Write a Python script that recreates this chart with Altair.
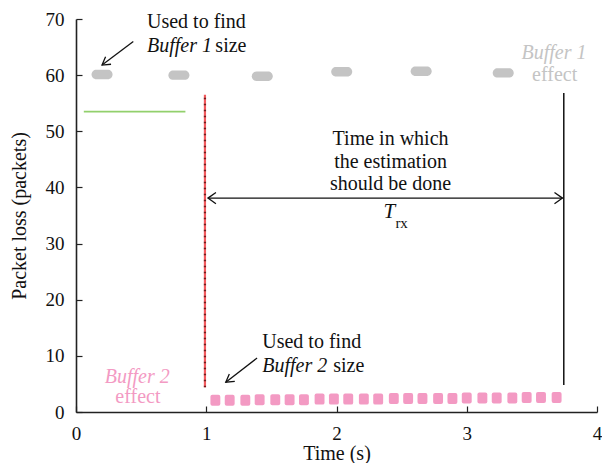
import altair as alt
import pandas as pd

SERIF = "'Liberation Serif', 'Times New Roman', serif"

# ---- data ----
buf1_t = [0.20, 0.79, 1.43, 2.04, 2.65, 3.28]
buf1_loss = [60.1, 60.0, 59.8, 60.6, 60.7, 60.4]

buf2_t = [1.07, 1.18, 1.30, 1.41, 1.53, 1.64, 1.75, 1.87, 1.98, 2.09, 2.21, 2.32,
          2.44, 2.55, 2.66, 2.78, 2.89, 3.00, 3.12, 3.23, 3.35, 3.46, 3.57, 3.69]
buf2_loss = [2.1, 2.1, 2.1, 2.2, 2.2, 2.2, 2.2, 2.3, 2.3, 2.3, 2.3, 2.3,
             2.4, 2.4, 2.4, 2.4, 2.4, 2.5, 2.5, 2.5, 2.5, 2.6, 2.6, 2.6]

x_ticks = [0, 1, 2, 3, 4]
y_ticks = [0, 10, 20, 30, 40, 50, 60, 70]

# reference lines
green_x = [0.06, 0.84]
green_y = [53.5]
red_x = [0.99]
red_y = [4.4, 56.5]
black_x = [3.745]
black_y = [4.8, 56.8]
span_x = [1.013, 3.735]
span_y = [38.1]

# diagonal arrows: tail -> tip
arrow_x1 = [0.44, 1.39]
arrow_y1 = [66.0, 9.6]
arrow_x2 = [0.20, 1.15]
arrow_y2 = [61.8, 5.3]

# text annotations
note_text = ["Used to find", "Used to find"]
note_x = [0.545, 1.43]
note_y = [69.5, 12.5]
note_it_text = ["Buffer 1", "Buffer 2"]
note_it_y = [65.2, 8.2]
note_size_x = [1.07, 1.975]

trx_lines = ["Time in which", "the estimation", "should be done"]
trx_x = [2.415, 2.415, 2.415]
trx_y = [48.7, 44.6, 40.6]

xs = alt.Scale(domain=[0, 4], nice=False, zero=False)
ys = alt.Scale(domain=[0, 70], nice=False, zero=False)

x_axis = alt.Axis(title="Time (s)", values=x_ticks, format="d", grid=False, labelFlush=False,
                  tickSize={"expr": "-6"}, labelPadding=18, titlePadding=0)
y_axis = alt.Axis(title="Packet loss (packets)", values=y_ticks, format="d", grid=False, labelFlush=False,
                  tickSize={"expr": "-6"}, labelPadding=18, titlePadding=16)


def X(field="x"):
    return alt.X(field, type="quantitative", scale=xs, axis=x_axis)


def Y(field="y"):
    return alt.Y(field, type="quantitative", scale=ys, axis=y_axis)


RR_DASH = "M -0.55 -0.45 L 0.55 -0.45 A 0.45 0.45 0 0 1 0.55 0.45 L -0.55 0.45 A 0.45 0.45 0 0 1 -0.55 -0.45 Z"
RR_SQ = "M -0.55 -1 L 0.55 -1 Q 0.9 -1 0.9 -0.65 L 0.9 0.65 Q 0.9 1 0.55 1 L -0.55 1 Q -0.9 1 -0.9 0.65 L -0.9 -0.65 Q -0.9 -1 -0.55 -1 Z"

buf1 = alt.Chart(pd.DataFrame({"x": buf1_t, "y": buf1_loss})).mark_point(
    shape=RR_DASH, filled=True, size=441, color="#c4c4c4", opacity=1, strokeWidth=0
).encode(x=X(), y=Y())

buf2 = alt.Chart(pd.DataFrame({"x": buf2_t, "y": buf2_loss})).mark_point(
    shape=RR_SQ, filled=True, size=121, color="#f39ac3", opacity=1, strokeWidth=0
).encode(x=X(), y=Y())

green = alt.Chart(pd.DataFrame({"x": [green_x[0]], "x2": [green_x[1]], "y": green_y})).mark_rule(
    color="#92d06c", strokeWidth=1.6
).encode(x=X(), x2="x2", y=Y())

red_df = pd.DataFrame({"x": red_x, "y": [red_y[0]], "y2": [red_y[1]]})
red = alt.Chart(red_df).mark_rule(color="#f25a5e", strokeWidth=2.2).encode(x=X(), y=Y(), y2="y2")
red_dash = alt.Chart(red_df).mark_rule(color="#5a1414", strokeWidth=2.2, strokeDash=[1.5, 4.5], opacity=0.85).encode(
    x=X(), y=Y(), y2="y2")

black = alt.Chart(pd.DataFrame({"x": black_x, "y": [black_y[0]], "y2": [black_y[1]]})).mark_rule(
    color="#111111", strokeWidth=1.5
).encode(x=X(), y=Y(), y2="y2")

span = alt.Chart(pd.DataFrame({"x": [span_x[0]], "x2": [span_x[1]], "y": span_y})).mark_rule(
    color="#111111", strokeWidth=1.3
).encode(x=X(), x2="x2", y=Y())

span_left = alt.Chart(pd.DataFrame({"x": [span_x[0]], "y": span_y})).mark_point(
    shape="M 1 -0.7 L 0 0 L 1 0.7", filled=False, size=256, color="#111111", strokeWidth=1.3, opacity=1
).encode(x=X(), y=Y())
span_right = alt.Chart(pd.DataFrame({"x": [span_x[1]], "y": span_y})).mark_point(
    shape="M -1 -0.7 L 0 0 L -1 0.7", filled=False, size=256, color="#111111", strokeWidth=1.3, opacity=1
).encode(x=X(), y=Y())

arrows = alt.Chart(pd.DataFrame({"x": arrow_x1, "y": arrow_y1, "x2": arrow_x2, "y2": arrow_y2})).mark_rule(
    color="#111111", strokeWidth=1.3
).encode(x=X(), y=Y(), x2="x2", y2="y2")
arrow_heads = alt.Chart(pd.DataFrame({"x": arrow_x2, "y": arrow_y2})).mark_point(
    shape="M -1 -0.6 L 0 0 L -1 0.6", filled=False, size=240, angle=144, color="#111111",
    strokeWidth=1.3, opacity=1
).encode(x=X(), y=Y())

notes = alt.Chart(pd.DataFrame({"x": note_x, "y": note_y, "t": note_text})).mark_text(
    font=SERIF, fontSize=20, align="left", baseline="middle", color="#111111"
).encode(x=X(), y=Y(), text="t:N")
notes_it = alt.Chart(pd.DataFrame({"x": note_x, "y": note_it_y, "t": note_it_text})).mark_text(
    font=SERIF, fontSize=20, fontStyle="italic", align="left", baseline="middle", color="#111111"
).encode(x=X(), y=Y(), text="t:N")
notes_size = alt.Chart(pd.DataFrame({"x": note_size_x, "y": note_it_y, "t": ["size", "size"]})).mark_text(
    font=SERIF, fontSize=20, align="left", baseline="middle", color="#111111"
).encode(x=X(), y=Y(), text="t:N")

trx_text = alt.Chart(pd.DataFrame({"x": trx_x, "y": trx_y, "t": trx_lines})).mark_text(
    font=SERIF, fontSize=20, align="center", baseline="middle", color="#111111"
).encode(x=X(), y=Y(), text="t:N")
trx_T = alt.Chart(pd.DataFrame({"x": [2.405], "y": [35.6], "t": ["T"]})).mark_text(
    font=SERIF, fontSize=21, fontStyle="italic", align="center", baseline="middle", color="#111111"
).encode(x=X(), y=Y(), text="t:N")
trx_sub = alt.Chart(pd.DataFrame({"x": [2.5], "y": [33.6], "t": ["rx"]})).mark_text(
    font=SERIF, fontSize=15, align="center", baseline="middle", color="#111111"
).encode(x=X(), y=Y(), text="t:N")

b1_lbl = alt.Chart(pd.DataFrame({"x": [3.67], "y": [64.0], "t": ["Buffer 1"]})).mark_text(
    font=SERIF, fontSize=20, fontStyle="italic", align="center", baseline="middle", color="#c4c4c4"
).encode(x=X(), y=Y(), text="t:N")
b1_eff = alt.Chart(pd.DataFrame({"x": [3.675], "y": [60.1], "t": ["effect"]})).mark_text(
    font=SERIF, fontSize=20, align="center", baseline="middle", color="#c4c4c4"
).encode(x=X(), y=Y(), text="t:N")
b2_lbl = alt.Chart(pd.DataFrame({"x": [0.47], "y": [6.3], "t": ["Buffer 2"]})).mark_text(
    font=SERIF, fontSize=20, fontStyle="italic", align="center", baseline="middle", color="#f39ac3"
).encode(x=X(), y=Y(), text="t:N")
b2_eff = alt.Chart(pd.DataFrame({"x": [0.475], "y": [2.7], "t": ["effect"]})).mark_text(
    font=SERIF, fontSize=20, align="center", baseline="middle", color="#f39ac3"
).encode(x=X(), y=Y(), text="t:N")

chart = alt.layer(
    buf1, buf2, green, red, red_dash, black, span, span_left, span_right,
    arrows, arrow_heads, notes, notes_it, notes_size, trx_text, trx_T, trx_sub,
    b1_lbl, b1_eff, b2_lbl, b2_eff
).properties(
    width=521, height=393,
    autosize=alt.AutoSizeParams(type="none"),
    padding={"left": 68, "top": 11, "right": 5, "bottom": 51},
).configure_view(stroke=None).configure_axis(
    labelFont=SERIF, labelFontSize=19, labelColor="#111111",
    titleFont=SERIF, titleFontSize=20, titleFontWeight="normal", titleColor="#111111",
    domainColor="#222222", domainWidth=1.6, tickColor="#222222", tickWidth=1.2,
)

chart.save("out.html", embed_options={"renderer": "svg", "actions": False})
